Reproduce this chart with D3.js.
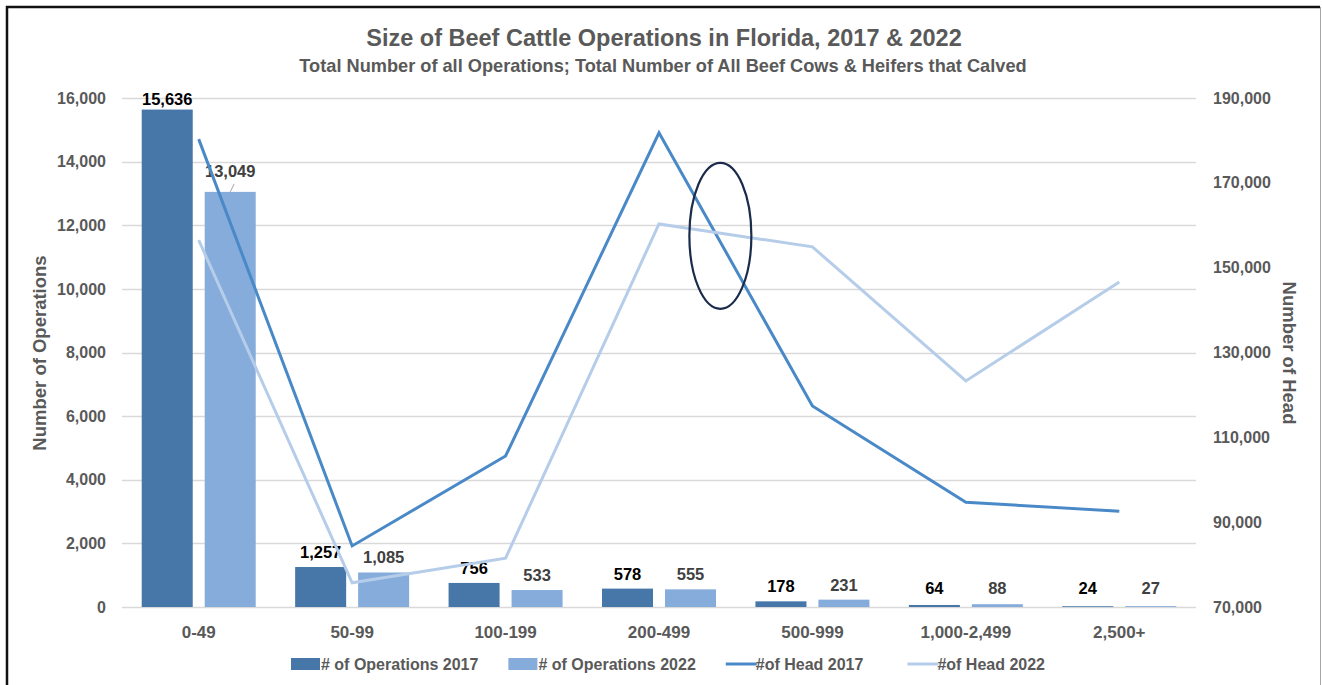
<!DOCTYPE html>
<html>
<head>
<meta charset="utf-8">
<script src="https://cdnjs.cloudflare.com/ajax/libs/d3/7.8.5/d3.min.js"></script>
<style>
  body { margin: 0; background: #fff; }
  text { font-family: "Liberation Sans", Arial, sans-serif; font-weight: bold; }
</style>
</head>
<body>
<svg id="chart" width="1322" height="685"></svg>
<script>
// data
var categories = ["0-49", "50-99", "100-199", "200-499", "500-999", "1,000-2,499", "2,500+"]
var ops2017 = [15636, 1257, 756, 578, 178, 64, 24]
var ops2022 = [13049, 1085, 533, 555, 231, 88, 27]
var head2017 = [180300, 84400, 105600, 181800, 117400, 94700, 92600]
var head2022 = [156500, 75700, 81500, 160300, 154900, 123300, 146600]
var leftTicks = [0, 2000, 4000, 6000, 8000, 10000, 12000, 14000, 16000]
var rightTicks = [70000, 90000, 110000, 130000, 150000, 170000, 190000]

var c = {
    bar17: "#4677a8",
    bar22: "#85acdb",
    line17: "#4a89c7",
    line22: "#b6cdea",
    grid: "#d9d9d9",
    text: "#595959",
    ring: "#1b2b4b"
}

var svg = d3.select("#chart")
var pL = 122, pR = 1196, pT = 98, pB = 607

var x = d3.scaleBand().domain(categories).range([pL, pR])
var xc = function(cat) { return x(cat) + x.bandwidth() / 2 }
var x1 = d3.scaleBand().domain(["2017", "2022"])
    .range([x.bandwidth() / 2 - 57, x.bandwidth() / 2 + 57])
    .paddingInner(0.19)
var yL = d3.scaleLinear().domain([0, 16000]).range([pB, pT])
var yR = d3.scaleLinear().domain([70000, 190000]).range([pB, pT])
var fmt = d3.format(",")

// frame
svg.append("path").attr("d", "M7,685V7H1320").attr("fill", "none")
    .attr("stroke", "#111").attr("stroke-width", 2.5)
svg.append("line").attr("x1", 1320.5).attr("x2", 1320.5).attr("y1", 7).attr("y2", 685)
    .attr("stroke", "#a6a6a6").attr("stroke-width", 1)

// titles
svg.append("text").attr("x", 664).attr("y", 46).attr("text-anchor", "middle")
    .style("font-size", "23.5px").attr("fill", c.text)
    .text("Size of Beef Cattle Operations in Florida, 2017 & 2022")
svg.append("text").attr("x", 663).attr("y", 72).attr("text-anchor", "middle")
    .style("font-size", "18.2px").attr("fill", c.text)
    .text("Total Number of all Operations; Total Number of All Beef Cows & Heifers that Calved")

// gridlines
svg.append("g").selectAll("line").data(leftTicks).enter().append("line")
    .attr("x1", pL).attr("x2", pR)
    .attr("y1", function(d) { return Math.round(yL(d)) + 0.5 })
    .attr("y2", function(d) { return Math.round(yL(d)) + 0.5 })
    .attr("stroke", c.grid).attr("stroke-width", 1.3)

// axes
var axL = svg.append("g").attr("transform", "translate(106,0)")
    .call(d3.axisLeft(yL).tickValues(leftTicks).tickFormat(fmt).tickSize(0).tickPadding(0))
var axR = svg.append("g").attr("transform", "translate(1213,0)")
    .call(d3.axisRight(yR).tickValues(rightTicks).tickFormat(fmt).tickSize(0).tickPadding(0))
var axB = svg.append("g").attr("transform", "translate(0,623)")
    .call(d3.axisBottom(x).tickSize(0).tickPadding(0))
;[axL, axR, axB].forEach(function(a) {
    a.select(".domain").remove()
    a.selectAll("text").attr("fill", c.text).style("font-size", "16px")
        .style("font-family", "Liberation Sans, Arial, sans-serif")
})
axB.selectAll("text").attr("dy", "0.9em").style("font-size", "17px")

svg.append("text").attr("transform", "translate(46,353) rotate(-90)")
    .attr("text-anchor", "middle").style("font-size", "18.5px").attr("fill", c.text)
    .text("Number of Operations")
svg.append("text").attr("transform", "translate(1283,353) rotate(90)")
    .attr("text-anchor", "middle").style("font-size", "18.5px").attr("fill", c.text)
    .text("Number of Head")

// bars
var rows = categories.map(function(cat, i) {
    return {cat: cat, v: [{s: "2017", v: ops2017[i]}, {s: "2022", v: ops2022[i]}]}
})
var grp = svg.append("g").selectAll("g").data(rows).enter().append("g")
    .attr("transform", function(d) { return "translate(" + x(d.cat) + ",0)" })
grp.selectAll("rect").data(function(d) { return d.v }).enter().append("rect")
    .attr("x", function(d) { return x1(d.s) })
    .attr("width", x1.bandwidth())
    .attr("y", function(d) { return yL(d.v) })
    .attr("height", function(d) { return Math.max(0.8, pB - yL(d.v)) })
    .attr("fill", function(d) { return d.s == "2017" ? c.bar17 : c.bar22 })

// lines
var line = function(vals) {
    return d3.line()
        .x(function(d, i) { return xc(categories[i]) })
        .y(function(d) { return yR(d) })(vals)
}
svg.append("path").attr("d", line(head2017)).attr("fill", "none")
    .attr("stroke", c.line17).attr("stroke-width", 3)
svg.append("path").attr("d", line(head2022)).attr("fill", "none")
    .attr("stroke", c.line22).attr("stroke-width", 3)

// bar labels
grp.selectAll("text.lbl").data(function(d) { return d.v }).enter().append("text")
    .attr("class", "lbl")
    .attr("x", function(d) { return x1(d.s) + x1.bandwidth() / 2 })
    .attr("y", function(d, i, n) {
        var p = d3.select(n[i].parentNode).datum()
        if (p.cat == "0-49" && d.s == "2022") return yL(d.v) - 15
        if (p.cat == "0-49") return yL(d.v) - 5
        return Math.min(yL(d.v) - 9, pB - 13)
    })
    .attr("text-anchor", "middle").style("font-size", "16.5px")
    .attr("fill", function(d) { return d.s == "2017" ? "#000" : "#404040" })
    .text(function(d) { return fmt(d.v) })

// leader line for 13,049
var lx = x("0-49") + x1("2022") + x1.bandwidth() / 2
svg.append("line").attr("x1", lx + 4).attr("x2", lx).attr("y1", yL(ops2022[0]) - 8).attr("y2", yL(ops2022[0]))
    .attr("stroke", "#a6a6a6").attr("stroke-width", 1)

// annotation ring
var ringX = xc("200-499") + 0.4 * x.step()
svg.append("ellipse").attr("cx", ringX).attr("cy", yR(157500))
    .attr("rx", 31).attr("ry", yR(140300) - yR(157500))
    .attr("fill", "none").attr("stroke", c.ring).attr("stroke-width", 2.2)

// legend
var legend = [
    {name: "# of Operations 2017", type: "bar", color: c.bar17},
    {name: "# of Operations 2022", type: "bar", color: c.bar22},
    {name: "#of Head 2017", type: "line", color: c.line17},
    {name: "#of Head 2022", type: "line", color: c.line22}
]
var lg = svg.append("g")
var lx0 = 291
legend.forEach(function(d) {
    var g = lg.append("g").attr("transform", "translate(" + lx0 + ",664)")
    if (d.type == "bar") {
        g.append("rect").attr("x", 0).attr("y", -6).attr("width", 29).attr("height", 12).attr("fill", d.color)
    } else {
        g.append("line").attr("x1", 0).attr("x2", 31).attr("y1", 0).attr("y2", 0)
            .attr("stroke", d.color).attr("stroke-width", 3)
    }
    var t = g.append("text").attr("x", 30).attr("y", 5.5).style("font-size", "16px")
        .attr("fill", c.text).text(d.name)
    lx0 += 30 + t.node().getComputedTextLength() + (d.type == "bar" ? 30 : 44)
})
</script>
</body>
</html>
